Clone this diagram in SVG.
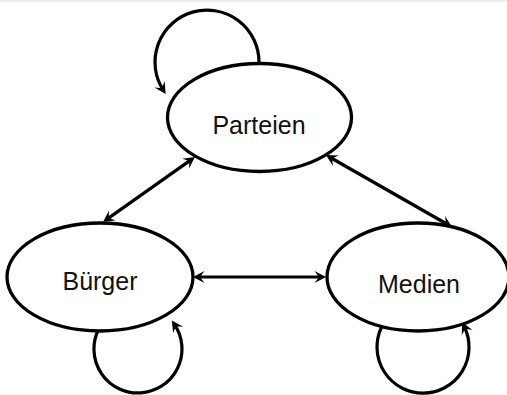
<svg xmlns="http://www.w3.org/2000/svg" width="507" height="395" viewBox="0 0 507 395">
  <style>
    .node { fill: #ffffff; stroke: #000000; stroke-width: 3.3; }
    .label { font-family: "Liberation Sans", Arial, sans-serif; font-size: 25px; fill: #111111; text-anchor: middle; }
    .edge { fill: none; stroke: #000000; stroke-width: 3.2; }
  </style>
  <defs>
    <marker id="arrow" markerUnits="userSpaceOnUse" markerWidth="16" markerHeight="16" viewBox="-2 -8 14 16" refX="5" refY="0" orient="auto-start-reverse">
      <path d="M10,0 L-1.5,-6 Q2.5,-1 2.5,0 Q2.5,1 -1.5,6 Z" fill="#000000"/>
    </marker>
  </defs>
  <rect x="0" y="0" width="507" height="2" fill="#ececec"/>
  <g id="connectors">
    <line class="edge" x1="107.1" y1="219.1" x2="190.9" y2="159.9" marker-start="url(#arrow)" marker-end="url(#arrow)"/>
    <line class="edge" x1="330.3" y1="157.5" x2="447.7" y2="224.5" marker-start="url(#arrow)" marker-end="url(#arrow)"/>
    <line class="edge" x1="198" y1="277" x2="321" y2="277" marker-start="url(#arrow)" marker-end="url(#arrow)"/>
    <path class="edge" d="M259,62 A52,52 0 1 0 163,89.8" marker-end="url(#arrow)"/>
    <path class="edge" d="M98.4,329.7 A44,44 0 1 0 174.6,324.6" marker-end="url(#arrow)"/>
    <path class="edge" d="M381.5,327.3 A46,46 0 1 0 464.3,326.8" marker-end="url(#arrow)"/>
  </g>
  <g id="parteien">
    <ellipse class="node" cx="259.5" cy="117.5" rx="92" ry="54"/>
    <text class="label" x="259" y="134">Parteien</text>
  </g>
  <g id="buerger">
    <ellipse class="node" cx="100" cy="277" rx="93" ry="54"/>
    <text class="label" x="100" y="290">Bürger</text>
  </g>
  <g id="medien">
    <ellipse class="node" cx="418" cy="277" rx="91" ry="54"/>
    <text class="label" x="419" y="293">Medien</text>
  </g>
</svg>
